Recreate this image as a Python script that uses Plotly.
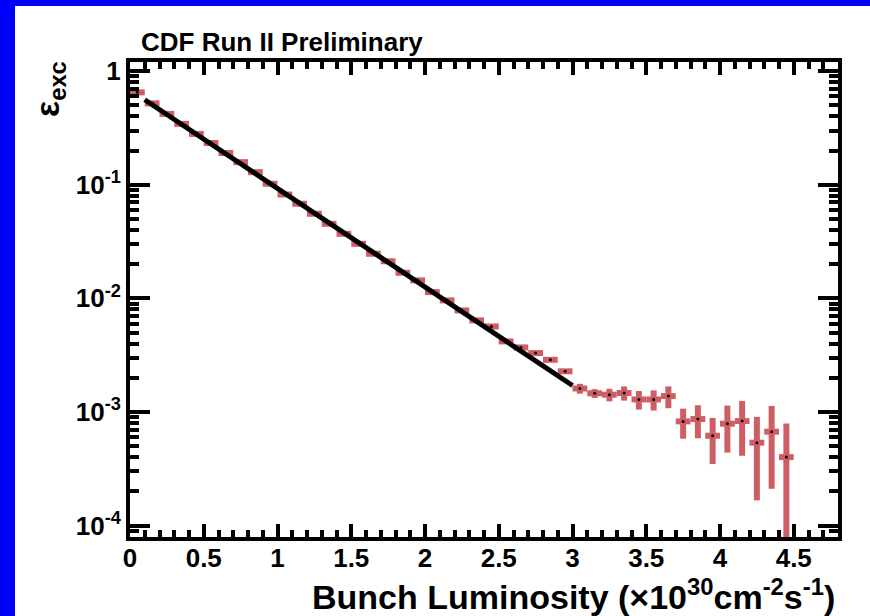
import plotly.graph_objects as go

# ---- data ----
lumi = [0.05, 0.15, 0.25, 0.35, 0.45, 0.55, 0.65, 0.75, 0.85, 0.95,
        1.05, 1.15, 1.25, 1.35, 1.45, 1.55, 1.65, 1.75, 1.85, 1.95,
        2.05, 2.15, 2.25, 2.35, 2.45, 2.55, 2.65, 2.75, 2.85, 2.95,
        3.05, 3.15, 3.25, 3.35, 3.45, 3.55, 3.65, 3.75, 3.85, 3.95,
        4.05, 4.15, 4.25, 4.35, 4.45]
eff = [0.65, 0.52, 0.42, 0.343, 0.28, 0.233, 0.19, 0.158, 0.129, 0.102,
       0.082, 0.068, 0.0555, 0.0453, 0.037, 0.0302, 0.0247, 0.0212, 0.0168, 0.0144,
       0.01135, 0.0096, 0.00783, 0.0064, 0.00566, 0.00418, 0.0037, 0.0033, 0.00288, 0.00228,
       0.00161, 0.00146, 0.00142, 0.00147, 0.00129, 0.00129, 0.00138, 0.000826, 0.000867, 0.000618,
       0.000789, 0.000832, 0.000537, 0.000671, 0.000401]
eff_err = [0.01, 0.008, 0.006, 0.005, 0.004, 0.003, 0.0025, 0.002, 0.0016, 0.0013,
           0.001, 0.0008, 0.0006, 0.0005, 0.0004, 0.0003, 0.00026, 0.00022, 0.00018, 0.00015,
           0.00012, 0.0001, 0.00009, 0.00008, 0.00007, 0.00006, 0.00006, 0.00006, 0.00006, 0.00009,
           0.00016, 0.00013, 0.00018, 0.00021, 0.00024, 0.00026, 0.0003, 0.000244, 0.00028, 0.00027,
           0.00035, 0.00042, 0.00037, 0.00046, 0.00039]
bin_half_width = 0.05

fit_x = [0.1, 3.0]
fit_y = [0.56, 0.00171]

y_tickvals = [1e-4, 1e-3, 1e-2, 1e-1, 1]
y_ticktext = ["10<sup>-4</sup>", "10<sup>-3</sup>", "10<sup>-2</sup>", "10<sup>-1</sup>", "1"]

RED = "rgb(207,94,100)"
BLUE = "#0000ff"
FONT = "Liberation Sans, Arial, Helvetica, sans-serif"

fig = go.Figure()
fig.add_trace(go.Scatter(
    x=lumi, y=eff, mode="markers",
    marker=dict(size=3, color="black"),
    error_x=dict(type="constant", value=bin_half_width, color=RED, thickness=6, width=0),
    error_y=dict(type="data", array=eff_err, color=RED, thickness=6, width=0),
    showlegend=False, cliponaxis=True,
))
fig.add_trace(go.Scatter(
    x=fit_x, y=fit_y, mode="lines",
    line=dict(color="black", width=5),
    showlegend=False,
))

L, R, T, B = 130, 32, 62, 79
W, H = 870, 616
pw, ph = W - L - R, H - T - B

def px_x(p):
    return (p - L) / pw

def px_y(p):
    return (H - B - p) / ph

fig.update_layout(
    width=W, height=H, autosize=False,
    margin=dict(l=L, r=R, t=T, b=B, pad=0),
    paper_bgcolor="white",
    plot_bgcolor="white",
    font=dict(family=FONT, color="black", size=26, weight="bold"),
    title=dict(text="CDF Run II Preliminary", x=px_x(141), xanchor="left", xref="paper",
               y=1 - 42 / H, yanchor="middle", yref="container",
               font=dict(size=26, family=FONT, color="black", weight="bold")),
    shapes=[
        dict(type="rect", xref="paper", yref="paper", layer="below",
             x0=px_x(0), x1=px_x(15), y0=px_y(H), y1=px_y(0),
             fillcolor=BLUE, line=dict(width=0)),
        dict(type="rect", xref="paper", yref="paper", layer="below",
             x0=px_x(0), x1=px_x(W), y0=px_y(6), y1=px_y(0),
             fillcolor=BLUE, line=dict(width=0)),
    ],
    annotations=[
        dict(text="Bunch Luminosity (×10<sup>30</sup>cm<sup>-2</sup>s<sup>-1</sup>)",
             xref="paper", yref="paper", x=px_x(837), y=px_y(594),
             xanchor="right", yanchor="middle", showarrow=False,
             font=dict(size=34, family=FONT, color="black", weight="bold")),
        dict(text="ε<sub>exc</sub>", textangle=-90,
             xref="paper", yref="paper", x=px_x(50), y=px_y(59),
             xanchor="center", yanchor="top", showarrow=False,
             font=dict(size=34, family=FONT, color="black", weight="bold")),
    ],
)

fig.update_xaxes(
    range=[0, 4.8], dtick=0.5, tick0=0,
    showgrid=False, zeroline=False,
    showline=True, linecolor="black", linewidth=4, mirror="ticks",
    ticks="inside", ticklen=13, tickwidth=4, tickcolor="black",
    minor=dict(dtick=0.1, ticks="inside", ticklen=7, tickwidth=4, tickcolor="black", showgrid=False),
    tickfont=dict(size=26, family=FONT, color="black", weight="bold"),
    ticklabelstandoff=-5,
)
fig.update_yaxes(
    type="log", range=[-4.1, 0.08],
    tickvals=y_tickvals, ticktext=y_ticktext,
    showgrid=False, zeroline=False,
    showline=True, linecolor="black", linewidth=4, mirror="ticks",
    ticks="inside", ticklen=20, tickwidth=4, tickcolor="black",
    minor=dict(dtick="D1", ticks="inside", ticklen=9, tickwidth=4, tickcolor="black", showgrid=False),
    tickfont=dict(size=26, family=FONT, color="black", weight="bold"),
)

fig.write_html("out.html")
